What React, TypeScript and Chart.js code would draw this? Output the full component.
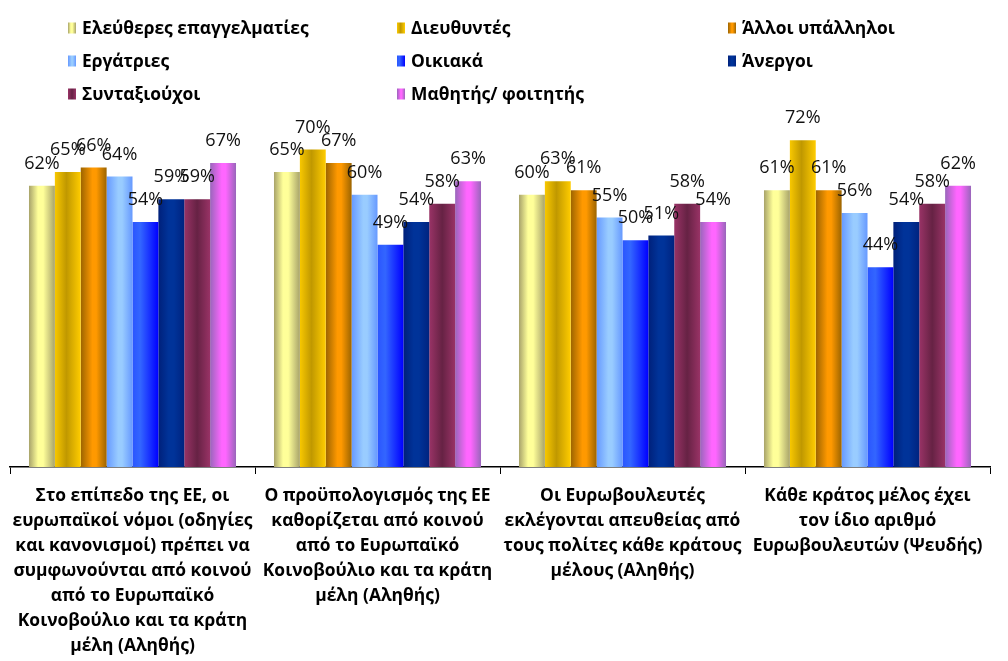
import React, { useEffect, useRef } from 'react';
import { Chart, registerables } from 'chart.js';

Chart.register(...registerables);

// ---- Data ----
const categories: string[][] = [
  [
    'Στο επίπεδο της ΕΕ, οι',
    'ευρωπαϊκοί νόμοι (οδηγίες',
    'και κανονισμοί) πρέπει να',
    'συμφωνούνται από κοινού',
    'από το Ευρωπαϊκό',
    'Κοινοβούλιο και τα κράτη',
    'μέλη (Αληθής)',
  ],
  [
    'Ο προϋπολογισμός της ΕΕ',
    'καθορίζεται από κοινού',
    'από το Ευρωπαϊκό',
    'Κοινοβούλιο και τα κράτη',
    'μέλη (Αληθής)',
  ],
  [
    'Οι Ευρωβουλευτές',
    'εκλέγονται απευθείας από',
    'τους πολίτες κάθε κράτους',
    'μέλους (Αληθής)',
  ],
  [
    'Κάθε κράτος μέλος έχει',
    'τον ίδιο αριθμό',
    'Ευρωβουλευτών (Ψευδής)',
  ],
];

const seriesNames: string[] = [
  'Ελεύθερες επαγγελματίες',
  'Διευθυντές',
  'Άλλοι υπάλληλοι',
  'Εργάτριες',
  'Οικιακά',
  'Άνεργοι',
  'Συνταξιούχοι',
  'Μαθητής/ φοιτητής',
];

const eleutheres = [62, 65, 60, 61];
const dieuthyntes = [65, 70, 63, 72];
const alloiYpalliloi = [66, 67, 61, 61];
const ergatries = [64, 60, 55, 56];
const oikiaka = [54, 49, 50, 44];
const anergoi = [59, 54, 51, 54];
const syntaxiouxoi = [59, 58, 58, 58];
const mathitis = [67, 63, 54, 62];

const seriesValues: number[][] = [
  eleutheres,
  dieuthyntes,
  alloiYpalliloi,
  ergatries,
  oikiaka,
  anergoi,
  syntaxiouxoi,
  mathitis,
];

const yMin = 0;
const yMax = 80;

// ---- Styles ----
const gradientStops: [number, string][][] = [
  [[0, '#a8a36a'], [0.35, '#ffff99'], [0.55, '#ffff99'], [1, '#a8a36a']],
  [[0, '#f8c800'], [0.45, '#c09800'], [1, '#ffcc00']],
  [[0, '#9c6400'], [0.45, '#ff9900'], [0.6, '#ff9900'], [1, '#9c6400']],
  [[0, '#6699ff'], [0.45, '#99ccff'], [0.6, '#99ccff'], [1, '#6699ff']],
  [[0, '#2a55ff'], [0.3, '#3366ff'], [1, '#0000ff']],
  [[0, '#00207a'], [0.4, '#003399'], [0.6, '#003399'], [1, '#00237f']],
  [[0, '#993366'], [0.5, '#662244'], [1, '#993366']],
  [[0, '#9966bb'], [0.45, '#ff66ff'], [0.6, '#ff66ff'], [1, '#9966bb']],
];

const FONT = "'Open Sans', sans-serif";
const BOLD_SIZE = 17.4;

function makeGradient(ctx: CanvasRenderingContext2D, x0: number, x1: number, idx: number) {
  const g = ctx.createLinearGradient(x0, 0, x1, 0);
  for (const [o, c] of gradientStops[idx]) g.addColorStop(o, c);
  return g;
}

const barGradientPlugin = {
  id: 'barGradient',
  beforeDatasetsDraw(chart: any) {
    const ctx = chart.ctx as CanvasRenderingContext2D;
    chart.data.datasets.forEach((_ds: any, di: number) => {
      const meta = chart.getDatasetMeta(di);
      meta.data.forEach((el: any) => {
        const { x, width } = el.getProps(['x', 'width'], true);
        const g = makeGradient(ctx, x - width / 2, x + width / 2, di);
        el.options = Object.assign({}, el.options, { backgroundColor: g });
      });
    });
  },
};

const dataLabelPlugin = {
  id: 'dataLabels',
  afterDatasetsDraw(chart: any) {
    const ctx = chart.ctx as CanvasRenderingContext2D;
    ctx.save();
    ctx.font = `18px ${FONT}`;
    ctx.fillStyle = '#111';
    ctx.textAlign = 'center';
    ctx.textBaseline = 'middle';
    chart.data.datasets.forEach((ds: any, di: number) => {
      const meta = chart.getDatasetMeta(di);
      meta.data.forEach((el: any, i: number) => {
        const { x, y } = el.getProps(['x', 'y'], true);
        ctx.fillText(`${ds.data[i]}%`, x, y - 22);
      });
    });
    ctx.restore();
  },
};

const gridLegendPlugin = {
  id: 'gridLegend',
  afterDraw(chart: any) {
    const ctx = chart.ctx as CanvasRenderingContext2D;
    const colX = [82, 411, 742];
    const rowY = [28, 61, 94];
    ctx.save();
    ctx.font = `bold ${BOLD_SIZE}px ${FONT}`;
    ctx.textAlign = 'left';
    ctx.textBaseline = 'middle';
    chart.data.datasets.forEach((ds: any, i: number) => {
      const tx = colX[i % 3];
      const ty = rowY[Math.floor(i / 3)];
      const sx = tx - 14;
      const sw = 8;
      const sh = 11;
      ctx.fillStyle = makeGradient(ctx, sx, sx + sw, i);
      ctx.fillRect(sx, ty - sh / 2, sw, sh);
      ctx.fillStyle = '#000';
      ctx.fillText(ds.label, tx, ty + 1);
    });
    ctx.restore();
  },
};

export default function App() {
  const canvasRef = useRef<HTMLCanvasElement | null>(null);

  useEffect(() => {
    if (!canvasRef.current) return;
    const chart = new Chart(canvasRef.current, {
      type: 'bar',
      data: {
        labels: categories,
        datasets: seriesNames.map((name, i) => ({
          label: name,
          data: seriesValues[i],
          backgroundColor: gradientStops[i][1][1],
          borderWidth: 0,
          categoryPercentage: 0.845,
          barPercentage: 1,
        })),
      },
      options: {
        animation: false,
        responsive: false,
        maintainAspectRatio: false,
        layout: { padding: { top: 104, left: 10, right: 18, bottom: 0 } },
        plugins: {
          legend: { display: false },
          tooltip: { enabled: false },
          title: { display: false },
        },
        scales: {
          x: {
            grid: {
              display: true,
              drawOnChartArea: false,
              drawTicks: true,
              tickLength: 7,
              color: '#000',
              lineWidth: 1,
              offset: true,
            },
            border: { display: true, color: '#000', width: 1.5 },
            ticks: {
              autoSkip: false,
              maxRotation: 0,
              minRotation: 0,
              padding: 10,
              color: '#000',
              font: { family: FONT, size: BOLD_SIZE, weight: 'bold', lineHeight: 25 / BOLD_SIZE },
            },
            afterFit: (scale: any) => {
              scale.height = 194;
            },
          },
          y: {
            display: false,
            min: yMin,
            max: yMax,
          },
        },
      },
      plugins: [barGradientPlugin, dataLabelPlugin, gridLegendPlugin],
    });
    return () => chart.destroy();
  }, []);

  return (
    <div style={{ position: 'absolute', left: 0, top: 0, width: 1008, height: 661, background: '#fff' }}>
      <canvas ref={canvasRef} width={1008} height={661} style={{ display: 'block' }} />
    </div>
  );
}
